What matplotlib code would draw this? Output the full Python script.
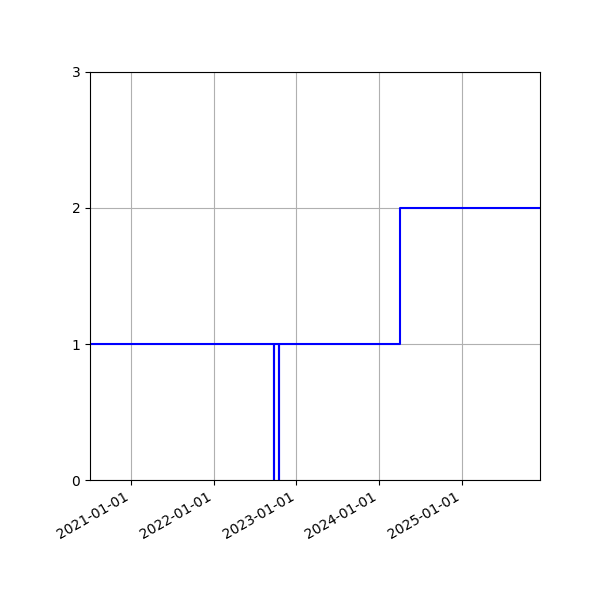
import numpy as np
import matplotlib
matplotlib.use("Agg")
import matplotlib.pyplot as plt
import matplotlib.dates as mdates

dates = np.array(["2020-07-04", "2022-09-22", "2022-09-23", "2022-10-16", "2022-10-17",
                  "2024-04-04", "2025-12-11"], dtype="datetime64[D]")
values = [1, 0, 1, 0, 1, 2, 2]

fig = plt.figure(figsize=(6, 6), dpi=100)
ax = fig.add_axes([0.15, 0.2, 0.75, 0.68])
ax.plot(dates, values, color="blue", drawstyle="steps-post")
ax.set_xlim(dates[0], dates[-1])
ax.set_ylim(0, 3)
ax.set_yticks([0, 1, 2, 3])
ax.xaxis.set_major_locator(mdates.YearLocator())
ax.xaxis.set_major_formatter(mdates.DateFormatter("%Y-%m-%d"))
ax.grid(True)
for lbl in ax.get_xticklabels():
    lbl.set_rotation(30)
    lbl.set_ha("right")
fig.savefig("out.png")
